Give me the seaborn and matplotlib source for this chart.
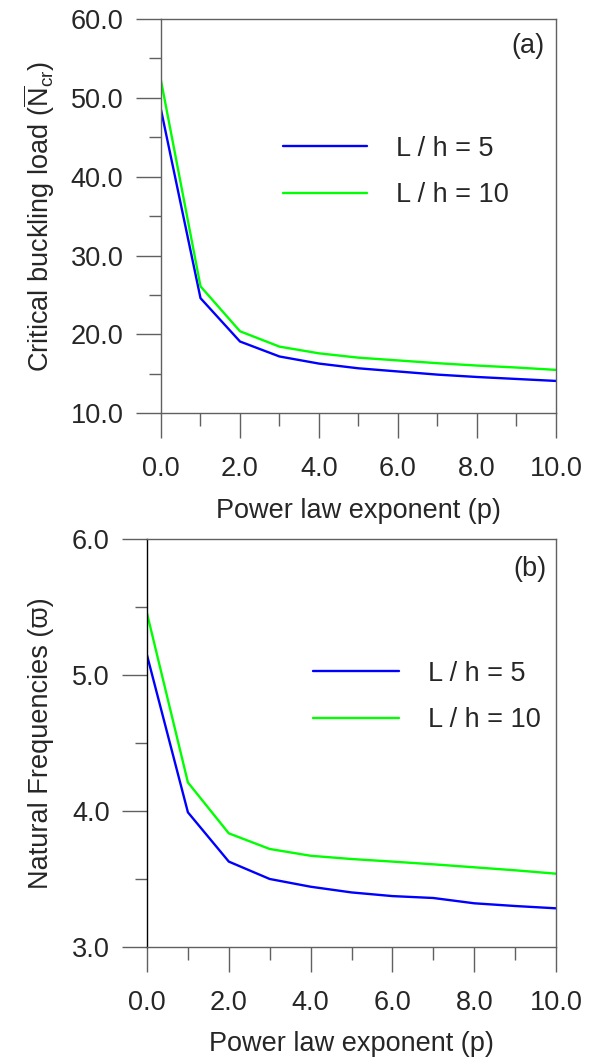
import matplotlib
matplotlib.use("Agg")
import matplotlib.pyplot as plt
from matplotlib.ticker import MultipleLocator, FormatStrFormatter
import numpy as np
import pandas as pd
import seaborn as sns

# power law exponent values
p_values = [0, 1, 2, 3, 4, 5, 6, 7, 8, 9, 10]

# (a) critical buckling load
buckling_lh5 = [48.5, 24.6, 19.1, 17.2, 16.3, 15.7, 15.3, 14.9, 14.6, 14.35, 14.1]
buckling_lh10 = [52.2, 26.1, 20.4, 18.45, 17.6, 17.05, 16.7, 16.35, 16.05, 15.8, 15.5]

# (b) natural frequencies
freq_lh5 = [5.147, 3.99, 3.627, 3.499, 3.442, 3.40, 3.373, 3.359, 3.32, 3.30, 3.283]
freq_lh10 = [5.455, 4.21, 3.835, 3.72, 3.67, 3.646, 3.627, 3.607, 3.585, 3.563, 3.538]

series_names = ["L / h = 5", "L / h = 10"]
colors = {"L / h = 5": "#0000ff", "L / h = 10": "#00ff00"}

sns.set_style("white")
plt.rcParams['font.family'] = ['Liberation Sans', 'DejaVu Sans']
plt.rcParams['mathtext.fontset'] = 'custom'
plt.rcParams['mathtext.rm'] = 'Liberation Sans'
plt.rcParams['mathtext.it'] = 'Liberation Sans'

FS = 19.5

def long_df(a, b):
    return pd.DataFrame({
        "p": p_values + p_values,
        "val": a + b,
        "series": [series_names[0]] * len(a) + [series_names[1]] * len(b),
    })

fig = plt.figure(figsize=(5.93, 10.64), dpi=100)
ax1 = fig.add_axes([0.2715, 0.6116, 0.6661, 0.3705])
ax2 = fig.add_axes([0.2479, 0.1102, 0.6897, 0.3829])

spine_col = "#606060"

def style_axis(ax, ylo, yhi, ymaj, ymin_, label, ylab_x, tag, tag_xy,
               leg_anchor, handle_len):
    ax.set_xlim(0, 10)
    ax.set_ylim(ylo, yhi)
    ax.xaxis.set_major_locator(MultipleLocator(2))
    ax.xaxis.set_minor_locator(MultipleLocator(1))
    ax.yaxis.set_major_locator(MultipleLocator(ymaj))
    ax.yaxis.set_minor_locator(MultipleLocator(ymin_))
    ax.xaxis.set_major_formatter(FormatStrFormatter('%.1f'))
    ax.yaxis.set_major_formatter(FormatStrFormatter('%.1f'))
    ax.tick_params(axis='both', which='major', direction='out', length=18,
                   width=1.0, color=spine_col, labelsize=FS)
    ax.tick_params(axis='x', which='major', pad=13)
    ax.tick_params(axis='y', which='major', pad=9)
    ax.tick_params(axis='both', which='minor', direction='out', length=9,
                   width=1.0, color=spine_col)
    ax.tick_params(left=True, bottom=True, which='both')
    for s in ax.spines.values():
        s.set_color(spine_col)
        s.set_linewidth(1.0)
    ax.set_xlabel("Power law exponent (p)", fontsize=FS, labelpad=11)
    ax.set_ylabel(label, fontsize=FS)
    ax.yaxis.set_label_coords(ylab_x, 0.5)
    ax.text(tag_xy[0], tag_xy[1], tag, transform=ax.transAxes, ha='center',
            va='center', fontsize=FS)
    ax.legend(loc='center left', bbox_to_anchor=leg_anchor, frameon=False,
              fontsize=FS, handlelength=handle_len, handletextpad=1.05,
              labelspacing=0.75)

sns.lineplot(data=long_df(buckling_lh5, buckling_lh10), x="p", y="val",
             hue="series", palette=colors, linewidth=1.7, ax=ax1)
style_axis(ax1, 10, 60, 10, 5,
           r'Critical buckling load ($\overline{\mathrm{N}}_{\mathrm{cr}}$)',
           -0.264, "(a)", (0.929, 0.931), (0.248, 0.612), 3.1)

sns.lineplot(data=long_df(freq_lh5, freq_lh10), x="p", y="val",
             hue="series", palette=colors, linewidth=1.7, ax=ax2)
style_axis(ax2, 3.0, 6.0, 1.0, 0.5,
           "Natural Frequencies (\u03d6)", -0.228, "(b)", (0.936, 0.927),
           (0.347, 0.613), 3.18)
ax2.spines['left'].set_color('black')

fig.savefig("out.png", dpi=100)
